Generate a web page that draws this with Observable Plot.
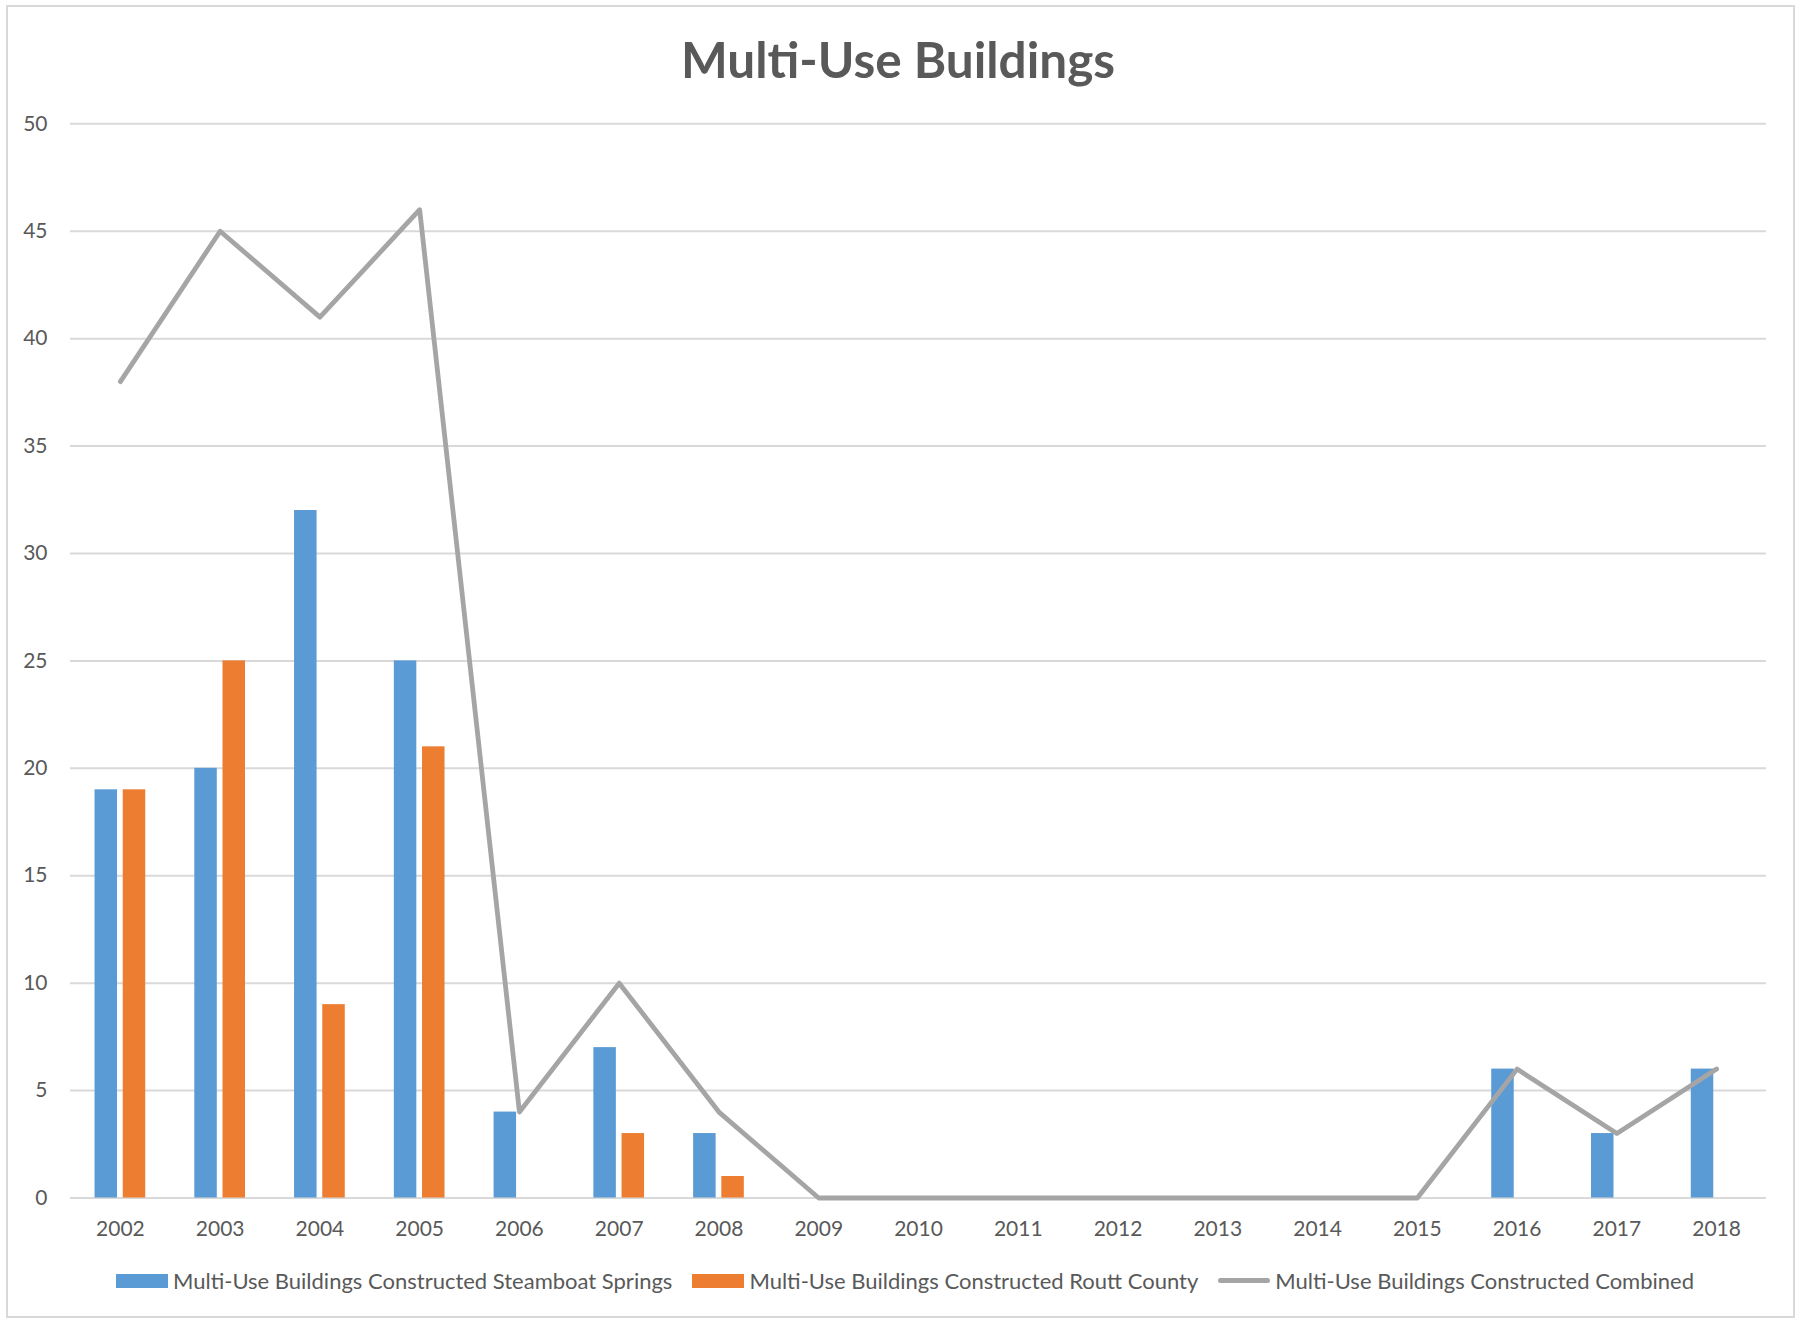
<!DOCTYPE html>
<html>
<head>
<meta charset="utf-8">
<script src="https://cdn.jsdelivr.net/npm/d3@7"></script>
<script src="https://cdn.jsdelivr.net/npm/@observablehq/plot@0.6"></script>
<style>
  html, body { margin: 0; padding: 0; background: #fff; }
  #frame {
    position: relative; width: 1796px; height: 1320px; box-sizing: border-box;
    font-family: Lato, "Open Sans", sans-serif; color: #595959;
  }
  #border {
    position: absolute; left: 6px; top: 5px; width: 1789px; height: 1313px;
    box-sizing: border-box; border: 2px solid #D9D9D9;
  }
  #title {
    height: 90px; box-sizing: border-box; padding-top: 31px;
    text-align: center; font-weight: bold; font-size: 49.5px; line-height: 56px; color: #595959;
  }
  #chart svg { display: block; }
  #legend {
    position: absolute; left: 7px; width: 1796px; top: 1267px;
    display: flex; justify-content: center; align-items: center; font-size: 22px; color: #595959;
  }
  .item { display: flex; align-items: center; margin: 0 10px; }
  .sw { width: 52px; height: 14px; margin-right: 5px; }
  .ln { width: 52px; height: 5px; border-radius: 3px; margin-right: 5px; }
</style>
</head>
<body>
<div id="frame">
  <div id="border"></div>
  <div id="title">Multi-Use Buildings</div>
  <div id="chart"></div>
  <div id="legend"></div>
</div>
<script>
const years = ["2002","2003","2004","2005","2006","2007","2008","2009","2010","2011","2012","2013","2014","2015","2016","2017","2018"];
const steamboat = [19, 20, 32, 25, 4, 7, 3, 0, 0, 0, 0, 0, 0, 0, 6, 3, 6];
const routt     = [19, 25, 9, 21, 0, 3, 1, 0, 0, 0, 0, 0, 0, 0, 0, 0, 0];
const combined  = [38, 45, 41, 46, 4, 10, 4, 0, 0, 0, 0, 0, 0, 0, 6, 3, 6];
const yTicks = [0, 5, 10, 15, 20, 25, 30, 35, 40, 45, 50];
const seriesNames = [
  "Multi-Use Buildings Constructed Steamboat Springs",
  "Multi-Use Buildings Constructed Routt County",
  "Multi-Use Buildings Constructed Combined"
];
const colors = ["#5B9BD5", "#ED7D31", "#A5A5A5"];

const table = years.map((y, i) => ({year: y, s: steamboat[i], r: routt[i], c: combined[i]}));

const W = 1796, H = 1150;
const ml = 70, mr = 30;
const band = (W - ml - mr) / years.length;
const barW = 22.5, gap = 2.85;
const innerInset = band / 2 + gap;        // inset on the side toward the other bar
const outerInset = band / 2 - gap - barW; // inset on the outer side

const chart = Plot.plot({
  width: W,
  height: H,
  marginLeft: ml,
  marginRight: mr,
  marginTop: 33.3,
  marginBottom: 42.5,
  style: {fontFamily: "Lato, 'Open Sans', sans-serif", fontSize: "21px", color: "#595959", background: "transparent"},
  x: {type: "band", domain: years, padding: 0, round: false, label: null, tickSize: 0, tickPadding: 23},
  y: {domain: [0, 50], ticks: yTicks, label: null, tickSize: 0, tickPadding: 23},
  marks: [
    Plot.gridY(yTicks, {stroke: "#D9D9D9", strokeOpacity: 1, strokeWidth: 2}),
    Plot.axisX({tickSize: 0, tickPadding: 23, fontSize: 21, label: null}),
    Plot.axisY(yTicks, {tickSize: 0, tickPadding: 23, fontSize: 21, label: null}),
    Plot.barY(table, {x: "year", y: "s", fill: colors[0], insetLeft: outerInset, insetRight: innerInset}),
    Plot.barY(table, {x: "year", y: "r", fill: colors[1], insetLeft: innerInset, insetRight: outerInset}),
    Plot.lineY(table, {x: "year", y: "c", stroke: colors[2], strokeWidth: 4.8, strokeLinejoin: "round", strokeLinecap: "round"})
  ]
});
document.getElementById("chart").appendChild(chart);

const legend = document.getElementById("legend");
seriesNames.forEach((name, i) => {
  const item = document.createElement("div");
  item.className = "item";
  const sw = document.createElement("div");
  sw.className = i < 2 ? "sw" : "ln";
  sw.style.background = colors[i];
  const label = document.createElement("span");
  label.textContent = name;
  item.appendChild(sw);
  item.appendChild(label);
  legend.appendChild(item);
});
</script>
</body>
</html>
